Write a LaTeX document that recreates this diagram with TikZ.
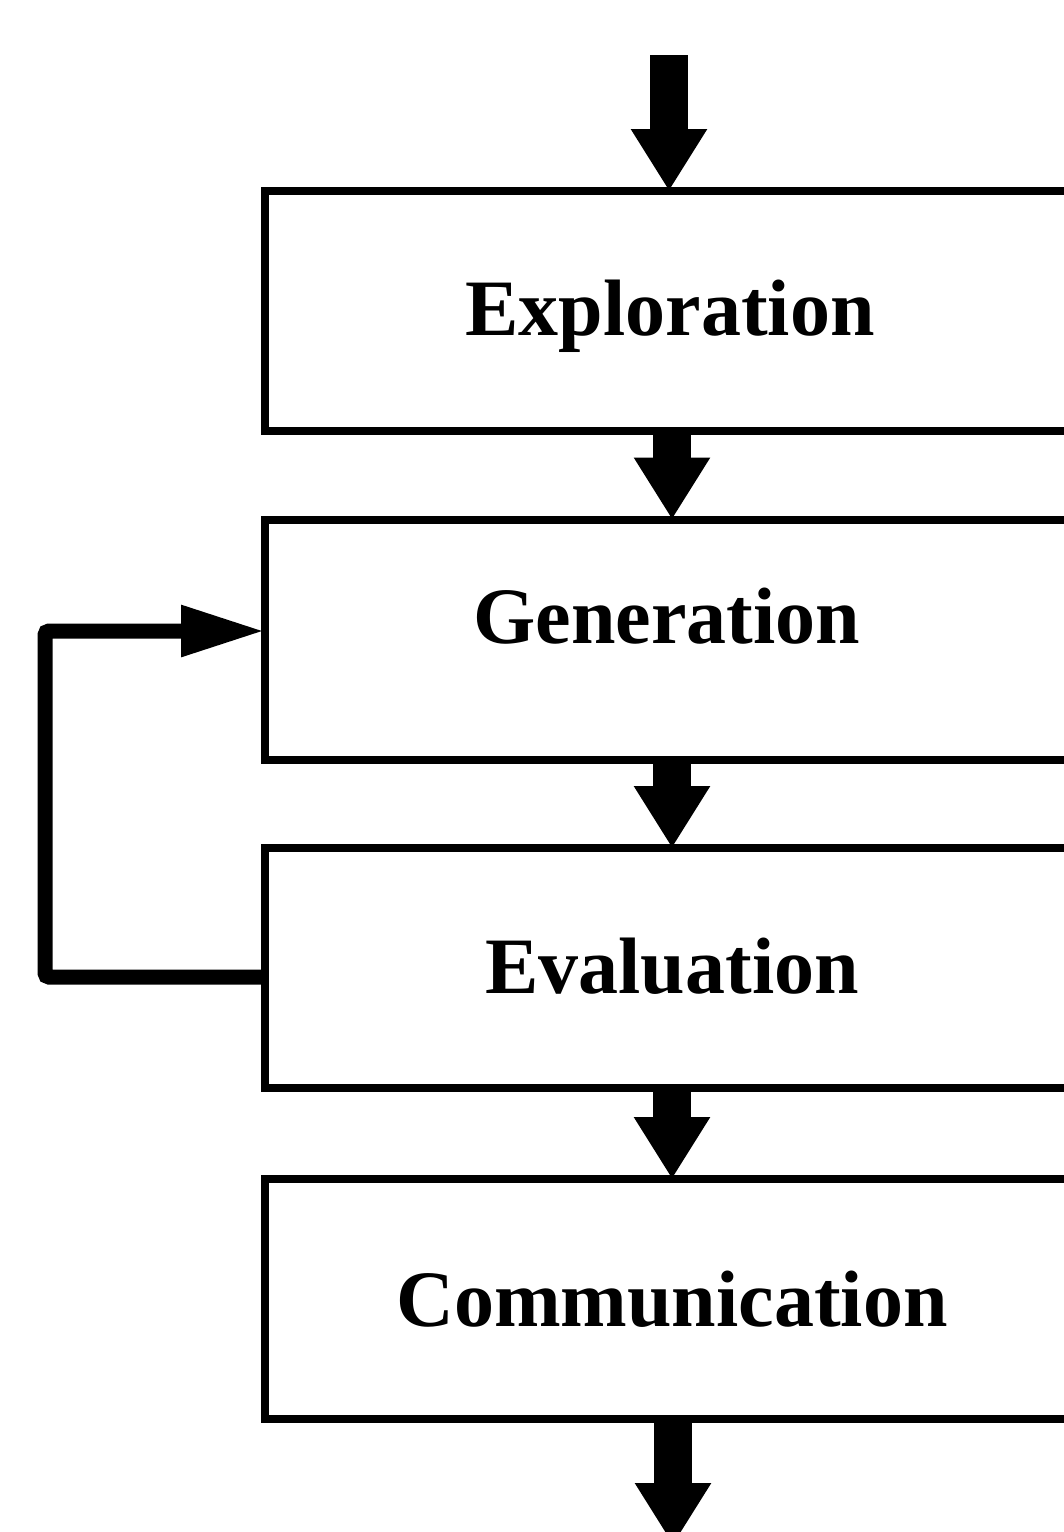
\documentclass[tikz,border=0pt]{standalone}
\usepackage{fontspec}
\setmainfont{Liberation Serif}
\usetikzlibrary{arrows.meta}
\begin{document}
\begin{tikzpicture}[x=0.5pt,y=-0.5pt,
  stagebox/.style={draw, line width=4pt, minimum width=410pt, minimum height=120pt,
    inner sep=0pt, outer sep=0pt},
  stagetext/.style={anchor=base, inner sep=0pt, font=\fontsize{40}{48}\selectfont\bfseries},
  flow/.style={line width=19pt, -{Triangle[width=36pt,length=31pt]}},
  loopline/.style={line width=7.5pt, rounded corners=2pt,
    -{Triangle[width=24pt,length=42pt]}}]
  \useasboundingbox (0,0) rectangle (1064,1532);
  \clip (0,0) rectangle (1064,1532);

  % the four stages
  \node[stagebox] (e1) at (675,311) {};
  \node[stagebox] (e2) at (675,639.5) {};
  \node[stagebox] (e3) at (675,968) {};
  \node[stagebox] (e4) at (675,1299) {};

  \node[stagetext] (t1) at (670,335) {Exploration};
  \node[stagetext] (t2) at (667,643) {Generation};
  \node[stagetext] (t3) at (672,993) {Evaluation};
  \node[stagetext] (t4) at (672,1326) {Communication};

  % main flow
  \coordinate (in) at (669,55);
  \coordinate (out) at (673,1545);
  \draw[flow] (in) -- (in |- e1.north);
  \draw[flow] (e1.south -| 672,0) -- (e2.north -| 672,0);
  \draw[flow] (e2.south -| 672,0) -- (e3.north -| 672,0);
  \draw[flow] (e3.south -| 672,0) -- (e4.north -| 672,0);
  \draw[flow] (e4.south -| out) -- (out);

  % feedback from evaluation back to generation
  \coordinate (lb) at (45,977);
  \coordinate (lt) at (45,631);
  \draw[loopline] (e3.west |- lb) -- (lb) -- (lt) -- (e2.west |- lt);
\end{tikzpicture}
\end{document}
